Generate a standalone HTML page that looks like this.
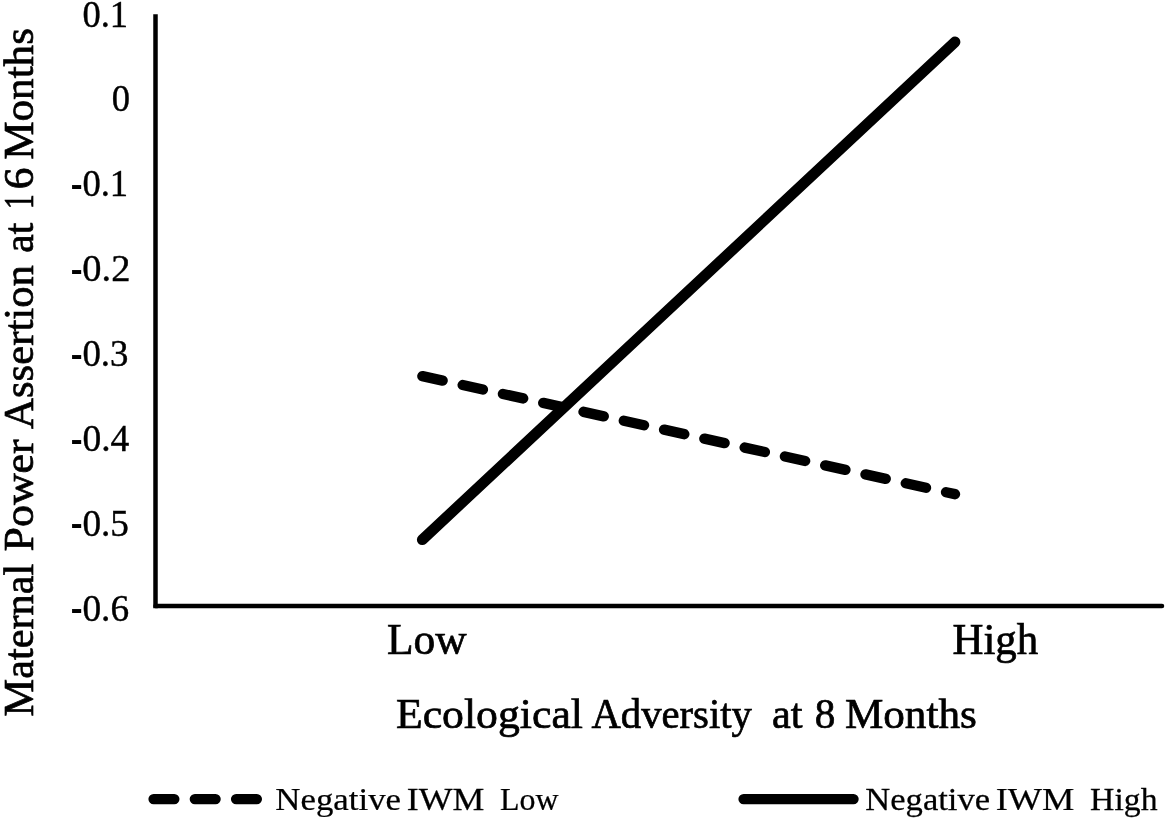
<!DOCTYPE html>
<html><head><meta charset="utf-8">
<style>
html,body{margin:0;padding:0;background:#fff;}
body{width:1167px;height:820px;overflow:hidden;}
svg{display:block;filter:blur(0.45px);}
text{font-family:"Liberation Serif",serif;fill:#000;stroke:#000;stroke-width:0.7px;}
.tk text{stroke-width:0.4px;}
.hy{stroke:none;}
.lg text{stroke-width:0.25px;}
</style></head><body>
<svg width="1167" height="820" viewBox="0 0 1167 820">
<rect width="1167" height="820" fill="#fff"/>
<line x1="155.5" y1="14.3" x2="155.5" y2="608.25" stroke="#000" stroke-width="4.5"/>
<line x1="155.5" y1="606.1" x2="1162" y2="606.1" stroke="#000" stroke-width="4.5" stroke-linecap="round"/>
<line x1="422.3" y1="539.7" x2="955" y2="42" stroke="#000" stroke-width="10.8" stroke-linecap="round"/>
<line x1="422.4" y1="376.1" x2="955" y2="494.2" stroke="#000" stroke-width="10.4" stroke-linecap="round" stroke-dasharray="20.7 20.56"/>
<line x1="153.6" y1="799.1" x2="257.8" y2="799.1" stroke="#000" stroke-width="10.4" stroke-linecap="round" stroke-dasharray="20.7 20.56"/>
<line x1="743.6" y1="799.1" x2="853.5" y2="799.1" stroke="#000" stroke-width="10.4" stroke-linecap="round"/>
<text transform="translate(395.97,727.50) scale(1.0340,1.015)" font-size="42.3">Ecological</text>
<text transform="translate(591.40,727.50) scale(0.9624,1.015)" font-size="42.3">Adversity</text>
<text transform="translate(771.90,727.50) scale(1.0009,1.015)" font-size="42.3">at</text>
<text transform="translate(814.63,727.50) scale(0.9737,1.015)" font-size="42.3">8</text>
<text transform="translate(844.88,727.50) scale(1.0205,1.015)" font-size="42.3">Months</text>
<text transform="translate(33.20,716.40) rotate(-90) scale(0.9999,1.015)" font-size="42.3">Maternal</text>
<text transform="translate(33.20,551.54) rotate(-90) scale(1.0393,1.015)" font-size="42.3">Power</text>
<text transform="translate(33.20,428.90) rotate(-90) scale(1.0106,1.015)" font-size="42.3">Assertion</text>
<text transform="translate(33.20,252.78) rotate(-90) scale(0.9807,1.015)" font-size="42.3">at</text>
<text transform="translate(33.20,209.14) rotate(-90) scale(0.7125,1.015)" font-size="42.3">1</text><text transform="translate(33.20,189.33) rotate(-90) scale(1.0263,1.015)" font-size="42.3">6</text>
<text transform="translate(33.20,159.82) rotate(-90) scale(1.0197,1.015)" font-size="42.3">Months</text>
<text transform="translate(387.01,653.70) scale(0.9878,1.0)" font-size="44">Low</text>
<text transform="translate(952.43,653.70) scale(0.9747,1.0)" font-size="44">High</text>
<g class="tk">
<text transform="translate(82.41,26.50) scale(0.9874,1.0)" font-size="37">0.1</text>
<text transform="translate(111.71,111.43) scale(0.9882,1.0)" font-size="37">0</text>
<text class="hy" transform="translate(70.75,199.76) scale(0.9500,1.4000)" font-size="37">-</text><text transform="translate(82.41,196.36) scale(0.9897,1.0)" font-size="37">0.1</text>
<text class="hy" transform="translate(70.75,284.69) scale(0.9500,1.4000)" font-size="37">-</text><text transform="translate(82.36,281.29) scale(1.0377,1.0)" font-size="37">0.2</text>
<text class="hy" transform="translate(70.75,369.62) scale(0.9500,1.4000)" font-size="37">-</text><text transform="translate(82.40,366.22) scale(0.9966,1.0)" font-size="37">0.3</text>
<text class="hy" transform="translate(70.75,454.55) scale(0.9500,1.4000)" font-size="37">-</text><text transform="translate(82.39,451.15) scale(1.0145,1.0)" font-size="37">0.4</text>
<text class="hy" transform="translate(70.75,539.48) scale(0.9500,1.4000)" font-size="37">-</text><text transform="translate(82.39,536.08) scale(1.0078,1.0)" font-size="37">0.5</text>
<text class="hy" transform="translate(70.75,624.41) scale(0.9500,1.4000)" font-size="37">-</text><text transform="translate(82.39,621.01) scale(1.0101,1.0)" font-size="37">0.6</text>
</g>
<g class="lg">
<text transform="translate(275.30,810.10) scale(1.0729,1.0)" font-size="32.5">Negative</text>
<text transform="translate(406.80,810.10) scale(1.1008,1.0)" font-size="32.5">IWM</text>
<text transform="translate(500.00,810.10) scale(0.9817,1.0)" font-size="32.5">Low</text>
<text transform="translate(865.30,810.10) scale(1.0643,1.0)" font-size="32.5">Negative</text>
<text transform="translate(995.78,810.10) scale(1.1168,1.0)" font-size="32.5">IWM</text>
<text transform="translate(1090.10,810.10) scale(1.0378,1.0)" font-size="32.5">High</text>
</g>
</svg>
</body></html>
